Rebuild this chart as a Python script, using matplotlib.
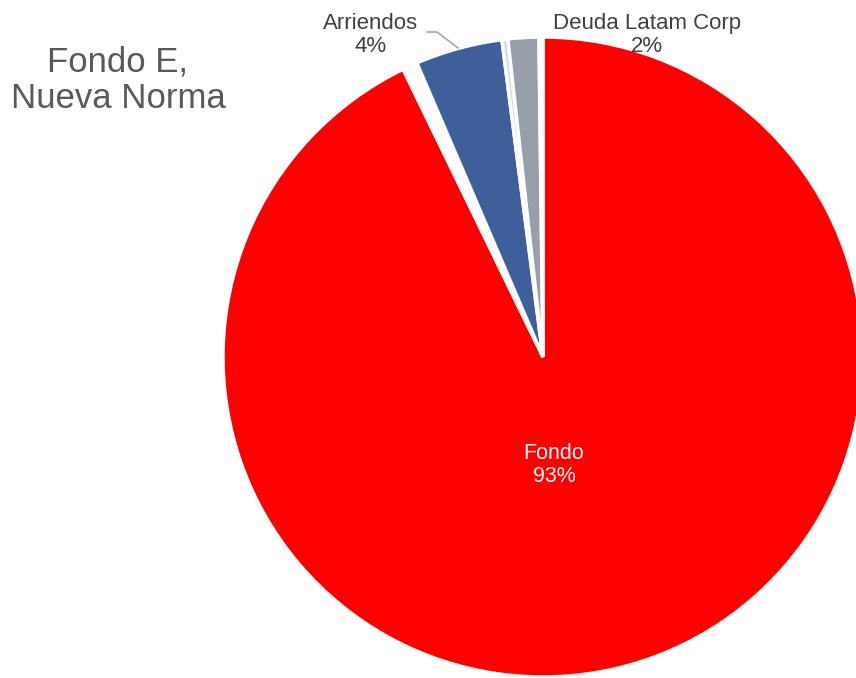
import matplotlib.pyplot as plt

plt.rcParams['font.family'] = ['Liberation Sans', 'DejaVu Sans']

# Fund composition (share of total, %)
names = ['Fondo', '', 'Arriendos', '', 'Deuda Latam Corp', '']
values = [92.8, 0.75, 4.4, 0.3, 1.55, 0.2]
colors = ['#ff0000', '#ffffff', '#3f5f9b', '#d3dcec', '#97a0aa', '#ffffff']

W, H = 856, 678
cx, cy, r = 543, 357, 320  # pie centre and radius in pixels

fig = plt.figure(figsize=(W / 100, H / 100), dpi=100)
ax = fig.add_axes([0, 0, 1, 1])

total = sum(values)
ax.pie(
    values,
    colors=colors,
    startangle=90,
    counterclock=False,
    wedgeprops=dict(edgecolor='white', linewidth=2.5),
)
ax.set_xlim(-cx / r, (W - cx) / r)
ax.set_ylim(-(H - cy) / r, cy / r)
ax.set_aspect('equal')
ax.axis('off')


def px(x, y):
    return (x - cx) / r, (cy - y) / r


def pct(i):
    return f"{values[i] / total * 100:.0f}%"


# slice labels
ax.text(*px(554, 465), f"{names[0]}\n{pct(0)}", color='white',
        fontsize=15.5, ha='center', va='center', linespacing=1.1)
ax.text(*px(371, 35), f"{names[2]}\n{pct(2)}", color='#404040',
        fontsize=16, ha='center', va='center', linespacing=1.1)
ax.text(*px(647, 35), f"{names[4]}\n{pct(4)}", color='#404040',
        fontsize=16, ha='center', va='center', linespacing=1.1)

# leader line for Arriendos
lx, ly = zip(px(427, 32), px(437, 32), px(458, 48))
ax.plot(lx, ly, color='#a6a6a6', lw=1.2)

fig.text(118 / W, 1 - 80 / H, "Fondo E,\nNueva Norma", color='#595959',
         fontsize=25, ha='center', va='center', linespacing=1.12)

fig.savefig('out.png', dpi=100)
